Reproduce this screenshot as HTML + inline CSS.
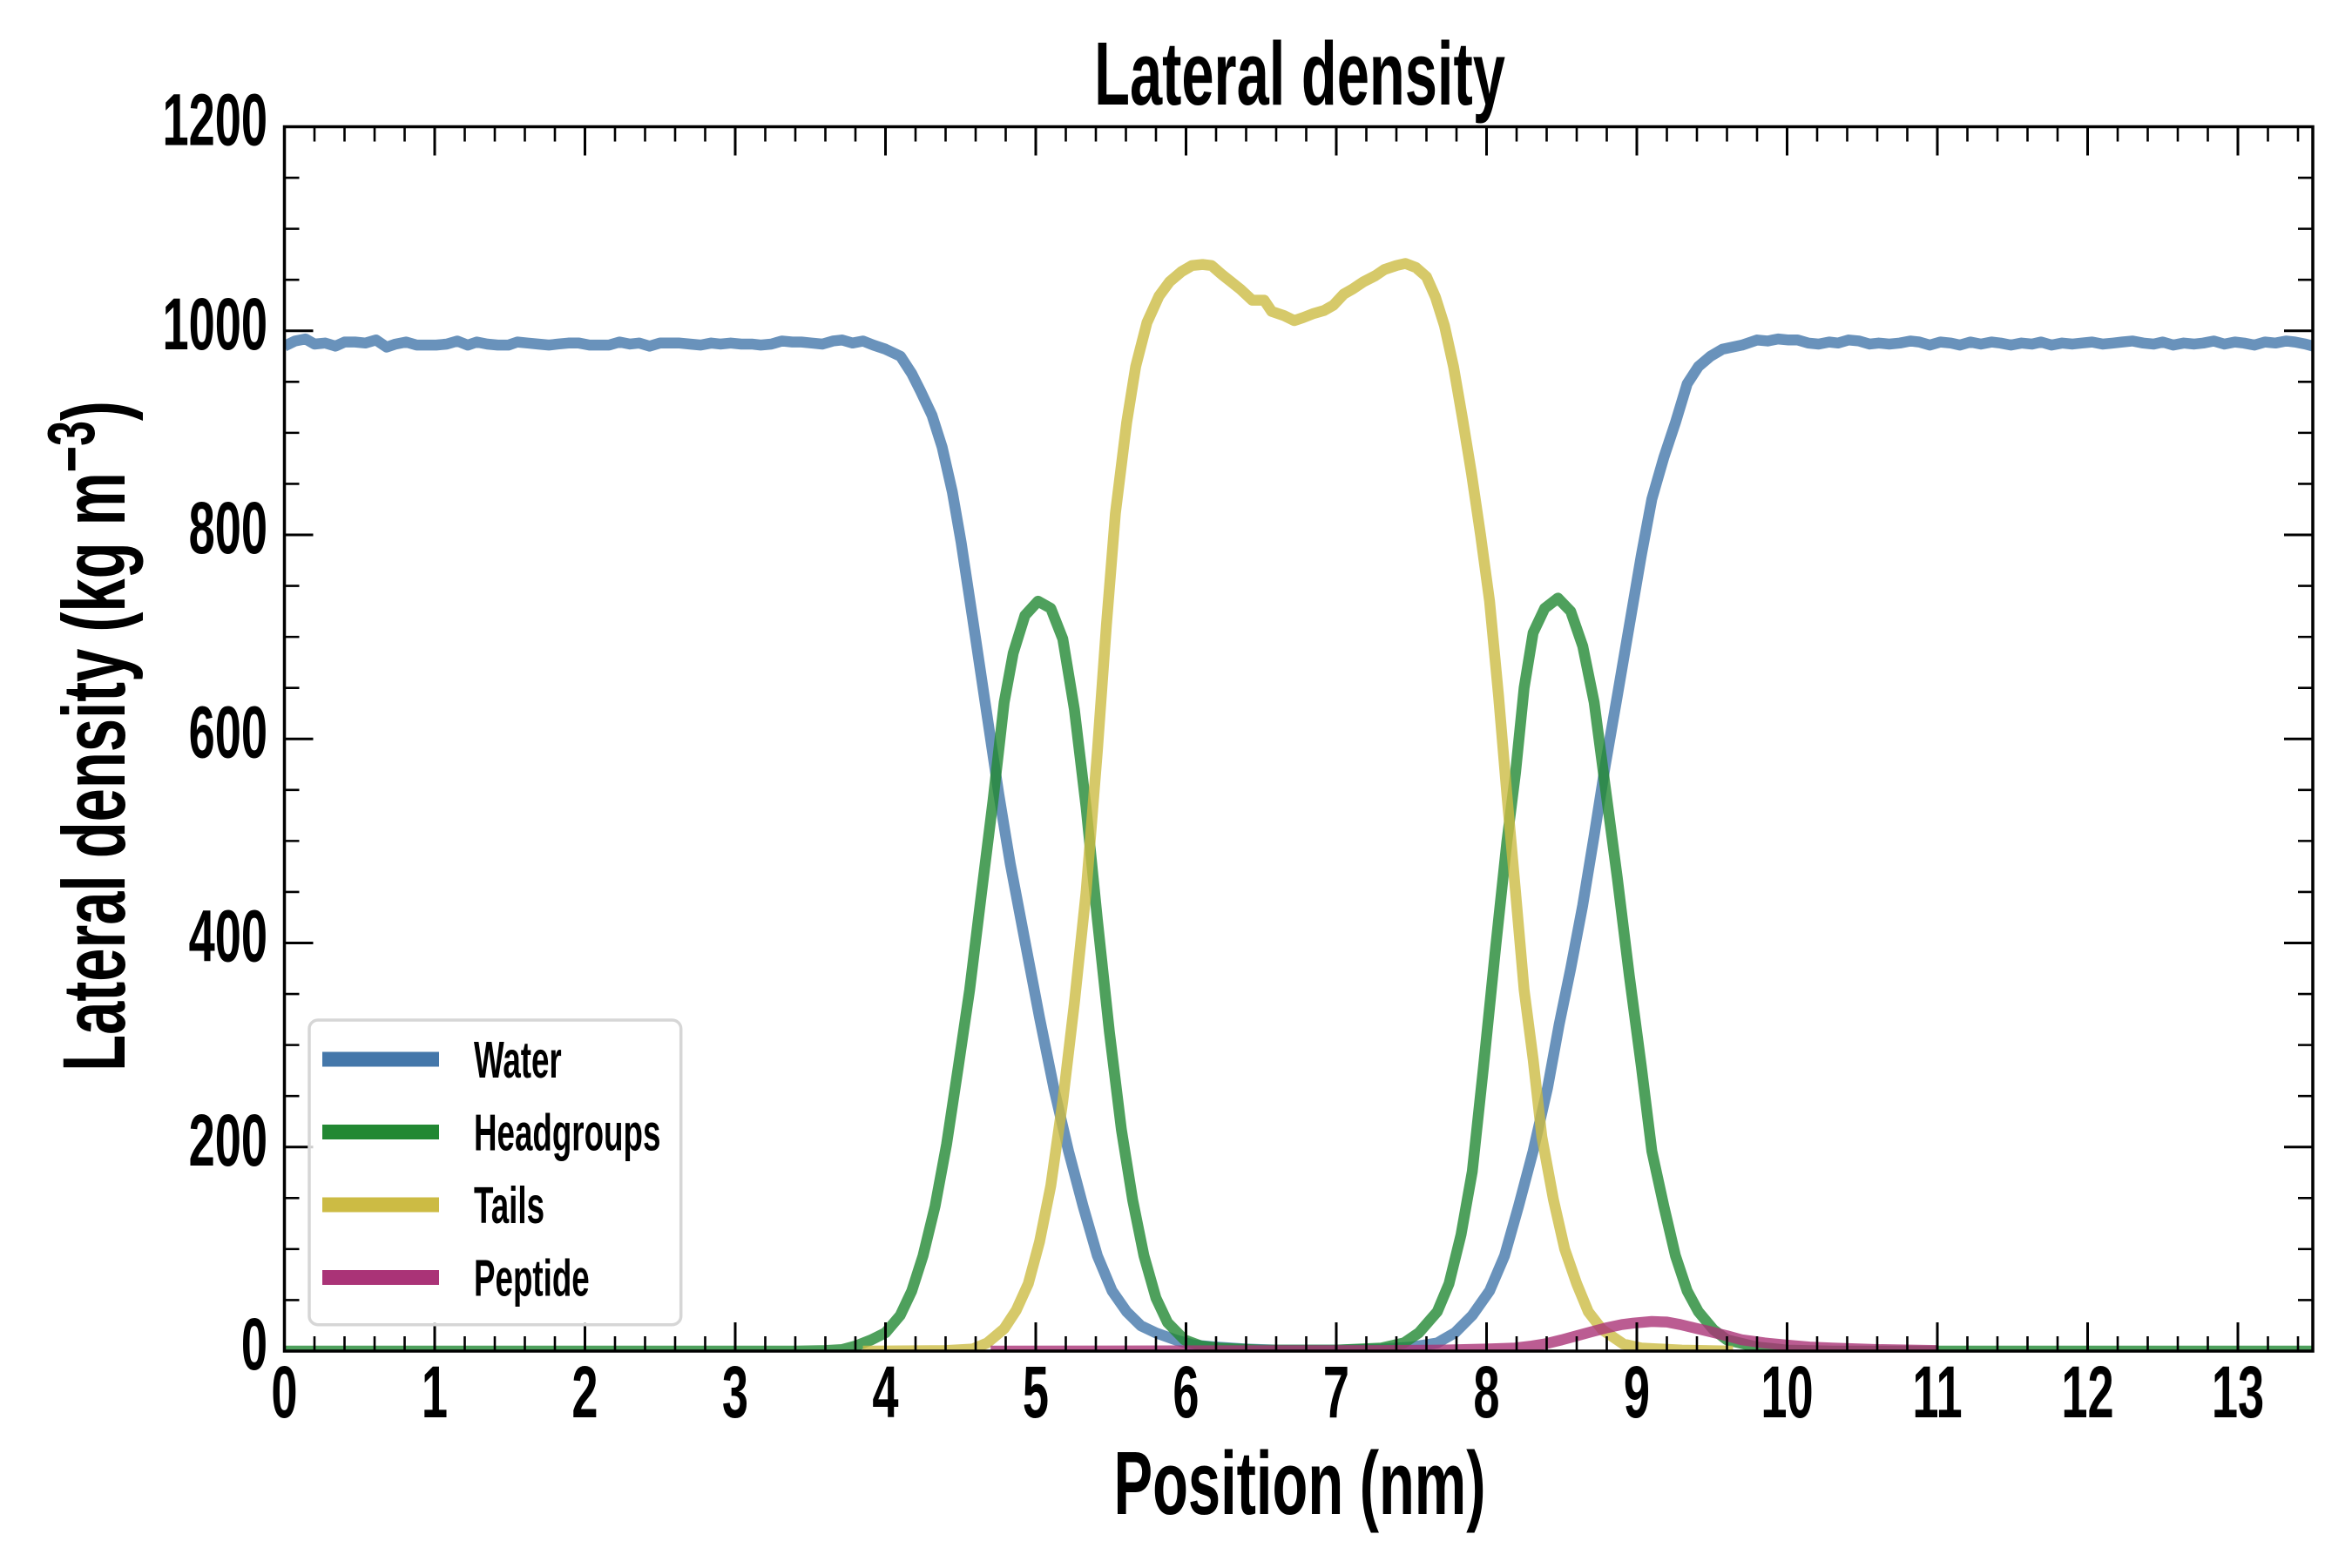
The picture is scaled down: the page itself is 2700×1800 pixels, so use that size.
<!DOCTYPE html>
<html>
<head>
<meta charset="utf-8">
<style>
  html, body { margin: 0; padding: 0; background: #ffffff; }
  svg { display: block; }
  text { font-family: "Liberation Sans", "DejaVu Sans", sans-serif; font-weight: bold; fill: #000; }
</style>
</head>
<body>
<svg width="2700" height="1800" viewBox="0 0 2700 1800" xmlns="http://www.w3.org/2000/svg">
  <rect x="0" y="0" width="2700" height="1800" fill="#ffffff"/>
  <defs>
    <clipPath id="plotclip">
      <rect x="326.5" y="145.5" width="2328.5" height="1405.5"/>
    </clipPath>
  </defs>

  <!-- Data curves -->
  <g clip-path="url(#plotclip)">
    <g transform="translate(326.5,1551) scale(172.5,-1.17125)" fill="none" stroke-linejoin="round" stroke-linecap="butt">
      <!-- Water -->
      <polyline vector-effect="non-scaling-stroke" stroke="#4477AA" stroke-opacity="0.8" stroke-width="12.5"
        points="0,985 0.07,990 0.14,992 0.2,987 0.27,988 0.34,985 0.4,989 0.47,989 0.54,988 0.61,991 0.68,984 0.74,987 0.81,989 0.88,986 0.95,986 1.01,986 1.08,987 1.15,990 1.22,986 1.28,989 1.35,987 1.42,986 1.49,986 1.55,989 1.62,988 1.69,987 1.76,986 1.82,987 1.89,988 1.96,988 2.03,986 2.09,986 2.16,986 2.23,989 2.3,987 2.36,988 2.43,985 2.5,988 2.57,988 2.63,988 2.7,987 2.77,986 2.84,988 2.9,987 2.97,988 3.04,987 3.11,987 3.17,986 3.24,987 3.31,990 3.38,989 3.44,989 3.51,988 3.58,987 3.65,990 3.71,991 3.78,988 3.85,990 3.92,986 4.0,982 4.1,975 4.175,958 4.233,941 4.31,917 4.377,886 4.445,842 4.503,793 4.58,718 4.677,622 4.754,546 4.83,478 4.928,402 5.025,327 5.12,258 5.218,196 5.315,142 5.41,93.5 5.508,59 5.605,38.6 5.7,24.8 5.8,17.8 5.93,11 6.05,6 6.2,4 6.4,2 6.6,1 7.0,1 7.3,2 7.5,4 7.672,8 7.79,18 7.905,35 8.02,59 8.12,93.5 8.213,142 8.31,196 8.406,258 8.483,320 8.56,375 8.64,437 8.716,505 8.79,574 8.87,642 8.95,711 9.03,780 9.1,835 9.18,876 9.257,910 9.335,948 9.41,965 9.49,975 9.57,982 9.7,986 9.8,991 9.87,990 9.94,992 10.01,991 10.07,991 10.14,988 10.21,987 10.28,989 10.34,988 10.41,991 10.48,990 10.55,987 10.61,988 10.68,987 10.75,988 10.82,990 10.88,989 10.95,986 11.02,989 11.09,988 11.15,986 11.22,989 11.29,987 11.36,989 11.42,988 11.49,986 11.56,988 11.63,987 11.69,989 11.76,986 11.83,988 11.9,987 11.96,988 12.03,989 12.1,987 12.17,988 12.23,989 12.3,990 12.37,988 12.44,987 12.5,989 12.57,986 12.64,988 12.71,987 12.77,988 12.84,990 12.91,987 12.98,989 13.04,988 13.11,986 13.18,989 13.25,988 13.32,990 13.38,989 13.45,987 13.5,985"/>
      <!-- Headgroups -->
      <polyline vector-effect="non-scaling-stroke" stroke="#228833" stroke-opacity="0.8" stroke-width="12.5"
        points="0,0 3.4,0 3.6,0.5 3.71,1.5 3.8,5 3.905,11 4.0,18 4.098,35 4.175,59 4.25,93.5 4.33,142 4.407,203 4.485,279 4.56,354 4.64,450 4.716,540 4.79,636 4.85,684 4.928,721 5.015,735 5.1,728 5.18,698 5.257,629 5.335,533 5.41,423 5.49,313 5.57,217 5.645,148 5.72,93.5 5.8,52 5.877,28 5.99,11 6.1,5 6.22,3 6.5,1 7.0,1 7.3,3 7.45,8 7.55,18 7.672,38.6 7.75,66 7.83,114 7.905,176 7.98,279 8.06,395 8.135,499 8.193,567 8.25,650 8.31,704 8.387,728 8.475,738 8.56,725 8.64,691 8.716,636 8.79,553 8.87,464 8.95,368 9.03,279 9.1,196 9.18,142 9.257,93.5 9.335,59 9.41,38.6 9.51,21 9.6,11 9.8,4 10.0,1 10.3,0 13.5,0"/>
      <!-- Tails -->
      <polyline vector-effect="non-scaling-stroke" stroke="#CCBB44" stroke-opacity="0.8" stroke-width="12.5"
        points="3.85,0 4.4,0.5 4.58,2 4.677,8 4.79,22 4.87,40 4.95,66 5.025,107 5.1,162 5.18,245 5.257,341 5.335,450 5.41,588 5.47,711 5.53,821 5.605,910 5.665,965 5.74,1008 5.82,1034 5.89,1048 5.97,1058 6.04,1064 6.11,1065 6.17,1064 6.24,1055 6.3,1048 6.36,1041 6.44,1030 6.52,1030 6.57,1019 6.65,1015 6.72,1010 6.78,1013 6.85,1017 6.92,1020 6.98,1025 7.05,1036 7.11,1041 7.18,1048 7.26,1054 7.32,1060 7.4,1064 7.46,1066 7.53,1062 7.6,1053 7.66,1033 7.72,1005 7.78,965 7.84,914 7.9,860 7.96,800 8.02,735 8.08,642 8.135,546 8.193,450 8.25,354 8.31,286 8.368,210 8.445,148.6 8.52,100 8.6,66 8.677,38.6 8.77,21 8.91,7 9.03,3 9.3,1 9.64,0"/>
      <!-- Peptide -->
      <polyline vector-effect="non-scaling-stroke" stroke="#AA3377" stroke-opacity="0.8" stroke-width="12.5"
        points="4.7,0 7.3,0.5 7.7,1 8.0,2 8.19,3 8.3,5 8.387,7 8.5,11 8.6,15 8.7,19 8.79,22.5 8.9,26 8.98,27.5 9.1,29 9.2,28.5 9.29,26 9.39,22.5 9.49,19 9.6,15 9.7,11 9.85,8 9.99,6 10.15,4 10.3,3 10.6,1.5 11.0,0.5"/>
    </g>
  </g>

  <!-- Major ticks -->
  <path fill="none" stroke="#000" stroke-width="3"
    d="M326.5 1551V1518M326.5 145.5V178.5
       M499 1551V1518M499 145.5V178.5
       M671.5 1551V1518M671.5 145.5V178.5
       M844 1551V1518M844 145.5V178.5
       M1016.5 1551V1518M1016.5 145.5V178.5
       M1189 1551V1518M1189 145.5V178.5
       M1361.5 1551V1518M1361.5 145.5V178.5
       M1534 1551V1518M1534 145.5V178.5
       M1706.5 1551V1518M1706.5 145.5V178.5
       M1879 1551V1518M1879 145.5V178.5
       M2051.5 1551V1518M2051.5 145.5V178.5
       M2224 1551V1518M2224 145.5V178.5
       M2396.5 1551V1518M2396.5 145.5V178.5
       M2569 1551V1518M2569 145.5V178.5
       M326.5 1316.75H359.5M2655 1316.75H2622
       M326.5 1082.5H359.5M2655 1082.5H2622
       M326.5 848.25H359.5M2655 848.25H2622
       M326.5 614H359.5M2655 614H2622
       M326.5 379.75H359.5M2655 379.75H2622"/>
  <!-- Minor ticks -->
  <path fill="none" stroke="#000" stroke-width="2.6"
    d="M361 1551V1534M361 145.5V162.5M395.5 1551V1534M395.5 145.5V162.5M430 1551V1534M430 145.5V162.5M464.5 1551V1534M464.5 145.5V162.5
       M533.5 1551V1534M533.5 145.5V162.5M568 1551V1534M568 145.5V162.5M602.5 1551V1534M602.5 145.5V162.5M637 1551V1534M637 145.5V162.5
       M706 1551V1534M706 145.5V162.5M740.5 1551V1534M740.5 145.5V162.5M775 1551V1534M775 145.5V162.5M809.5 1551V1534M809.5 145.5V162.5
       M878.5 1551V1534M878.5 145.5V162.5M913 1551V1534M913 145.5V162.5M947.5 1551V1534M947.5 145.5V162.5M982 1551V1534M982 145.5V162.5
       M1051 1551V1534M1051 145.5V162.5M1085.5 1551V1534M1085.5 145.5V162.5M1120 1551V1534M1120 145.5V162.5M1154.5 1551V1534M1154.5 145.5V162.5
       M1223.5 1551V1534M1223.5 145.5V162.5M1258 1551V1534M1258 145.5V162.5M1292.5 1551V1534M1292.5 145.5V162.5M1327 1551V1534M1327 145.5V162.5
       M1396 1551V1534M1396 145.5V162.5M1430.5 1551V1534M1430.5 145.5V162.5M1465 1551V1534M1465 145.5V162.5M1499.5 1551V1534M1499.5 145.5V162.5
       M1568.5 1551V1534M1568.5 145.5V162.5M1603 1551V1534M1603 145.5V162.5M1637.5 1551V1534M1637.5 145.5V162.5M1672 1551V1534M1672 145.5V162.5
       M1741 1551V1534M1741 145.5V162.5M1775.5 1551V1534M1775.5 145.5V162.5M1810 1551V1534M1810 145.5V162.5M1844.5 1551V1534M1844.5 145.5V162.5
       M1913.5 1551V1534M1913.5 145.5V162.5M1948 1551V1534M1948 145.5V162.5M1982.5 1551V1534M1982.5 145.5V162.5M2017 1551V1534M2017 145.5V162.5
       M2086 1551V1534M2086 145.5V162.5M2120.5 1551V1534M2120.5 145.5V162.5M2155 1551V1534M2155 145.5V162.5M2189.5 1551V1534M2189.5 145.5V162.5
       M2258.5 1551V1534M2258.5 145.5V162.5M2293 1551V1534M2293 145.5V162.5M2327.5 1551V1534M2327.5 145.5V162.5M2362 1551V1534M2362 145.5V162.5
       M2431 1551V1534M2431 145.5V162.5M2465.5 1551V1534M2465.5 145.5V162.5M2500 1551V1534M2500 145.5V162.5M2534.5 1551V1534M2534.5 145.5V162.5
       M2603.5 1551V1534M2603.5 145.5V162.5M2638 1551V1534M2638 145.5V162.5
       M326.5 1492.44H343.5M2655 1492.44H2638M326.5 1433.88H343.5M2655 1433.88H2638M326.5 1375.31H343.5M2655 1375.31H2638
       M326.5 1258.19H343.5M2655 1258.19H2638M326.5 1199.63H343.5M2655 1199.63H2638M326.5 1141.06H343.5M2655 1141.06H2638
       M326.5 1023.94H343.5M2655 1023.94H2638M326.5 965.38H343.5M2655 965.38H2638M326.5 906.81H343.5M2655 906.81H2638
       M326.5 789.69H343.5M2655 789.69H2638M326.5 731.13H343.5M2655 731.13H2638M326.5 672.56H343.5M2655 672.56H2638
       M326.5 555.44H343.5M2655 555.44H2638M326.5 496.88H343.5M2655 496.88H2638M326.5 438.31H343.5M2655 438.31H2638
       M326.5 321.19H343.5M2655 321.19H2638M326.5 262.63H343.5M2655 262.63H2638M326.5 204.06H343.5M2655 204.06H2638"/>

  <!-- Spines -->
  <rect x="326.5" y="145.5" width="2328.5" height="1405.5" fill="none" stroke="#000" stroke-width="3.5"/>

  <!-- X tick labels -->
  <g font-size="84" text-anchor="middle">
    <text transform="translate(326.5,1627) scale(0.645,1)">0</text>
    <text transform="translate(499,1627) scale(0.645,1)">1</text>
    <text transform="translate(671.5,1627) scale(0.645,1)">2</text>
    <text transform="translate(844,1627) scale(0.645,1)">3</text>
    <text transform="translate(1016.5,1627) scale(0.645,1)">4</text>
    <text transform="translate(1189,1627) scale(0.645,1)">5</text>
    <text transform="translate(1361.5,1627) scale(0.645,1)">6</text>
    <text transform="translate(1534,1627) scale(0.645,1)">7</text>
    <text transform="translate(1706.5,1627) scale(0.645,1)">8</text>
    <text transform="translate(1879,1627) scale(0.645,1)">9</text>
    <text transform="translate(2051.5,1627) scale(0.645,1)">10</text>
    <text transform="translate(2224,1627) scale(0.645,1)">11</text>
    <text transform="translate(2396.5,1627) scale(0.645,1)">12</text>
    <text transform="translate(2569,1627) scale(0.645,1)">13</text>
  </g>

  <!-- Y tick labels -->
  <g font-size="84" text-anchor="end">
    <text transform="translate(307,1572) scale(0.645,1)">0</text>
    <text transform="translate(307,1337.75) scale(0.645,1)">200</text>
    <text transform="translate(307,1103.5) scale(0.645,1)">400</text>
    <text transform="translate(307,869.25) scale(0.645,1)">600</text>
    <text transform="translate(307,635) scale(0.645,1)">800</text>
    <text transform="translate(307,400.75) scale(0.645,1)">1000</text>
    <text transform="translate(307,166.5) scale(0.645,1)">1200</text>
  </g>

  <!-- Title -->
  <text font-size="103" text-anchor="middle" transform="translate(1492,120) scale(0.649,1)">Lateral density</text>

  <!-- X axis label -->
  <text font-size="103" text-anchor="middle" transform="translate(1492,1738) scale(0.649,1)">Position (nm)</text>

  <!-- Y axis label -->
  <text font-size="102" text-anchor="middle" transform="translate(143,845) rotate(-90) scale(0.674,1)">Lateral density (kg m<tspan font-size="77" dy="-35">−3</tspan><tspan dy="35">)</tspan></text>

  <!-- Legend -->
  <rect x="355" y="1171" width="426.7" height="349.7" rx="10" ry="10" fill="#ffffff" fill-opacity="0.8" stroke="#d6d6d6" stroke-width="3.5"/>
  <g stroke-width="17" stroke-linecap="butt">
    <line x1="370" y1="1216" x2="504" y2="1216" stroke="#4477AA"/>
    <line x1="370" y1="1299.5" x2="504" y2="1299.5" stroke="#228833"/>
    <line x1="370" y1="1383" x2="504" y2="1383" stroke="#CCBB44"/>
    <line x1="370" y1="1466.5" x2="504" y2="1466.5" stroke="#AA3377"/>
  </g>
  <g font-size="59" text-anchor="start">
    <text transform="translate(544,1237) scale(0.623,1)">Water</text>
    <text transform="translate(544,1320.5) scale(0.623,1)">Headgroups</text>
    <text transform="translate(544,1404) scale(0.623,1)">Tails</text>
    <text transform="translate(544,1487.5) scale(0.623,1)">Peptide</text>
  </g>
</svg>
</body>
</html>
